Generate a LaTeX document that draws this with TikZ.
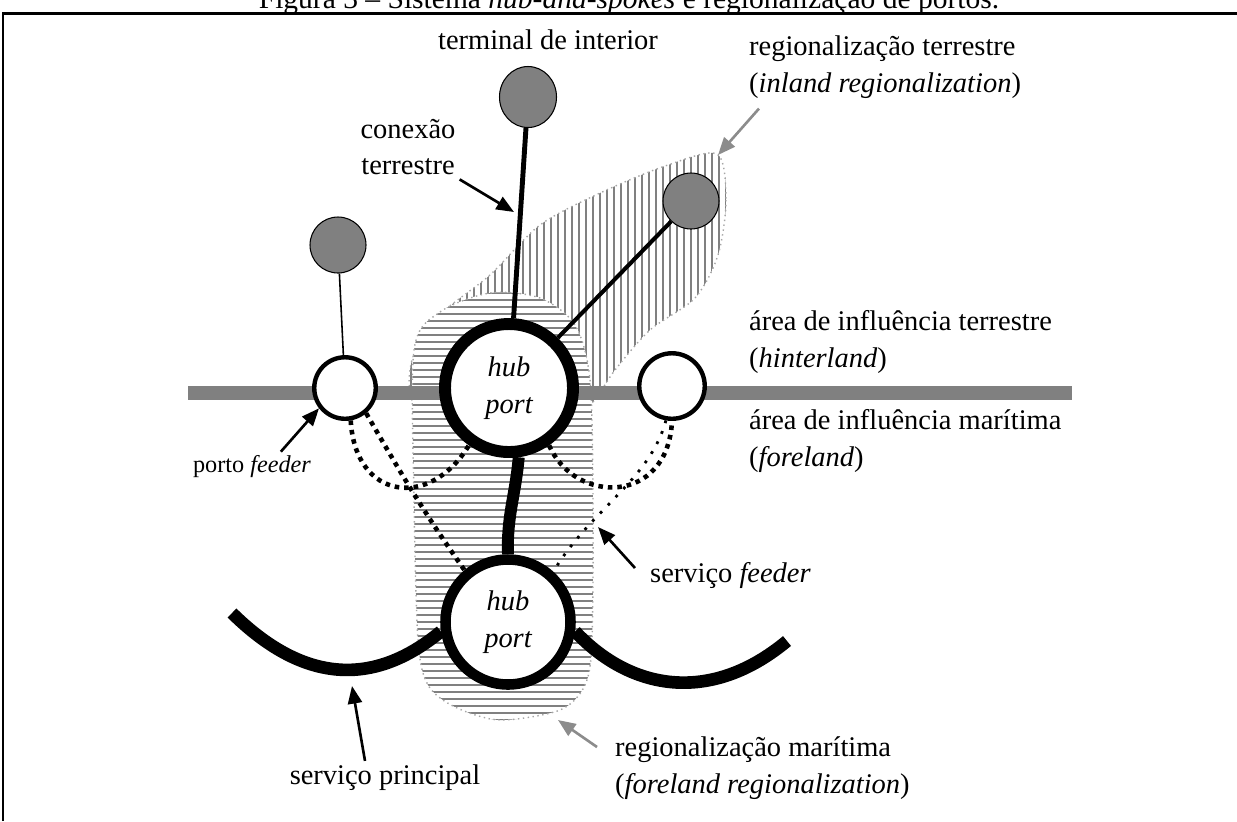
\documentclass[tikz,border=0pt]{standalone}
\usepackage{fontspec}
\setmainfont{Liberation Serif}
\usepackage{tikz}
\usetikzlibrary{positioning, arrows.meta, shapes.geometric}

\newcommand{\inlandregion}{plot[smooth cycle] coordinates {(717,154) (726,200) (718,255) (695,298) (650,330) (615,370) (592,403) (560,425) (470,425) (415,405) (412,360) (440,315) (490,275) (540,225) (600,193) (665,166)}}
\newcommand{\maritimeregion}{plot[smooth cycle] coordinates {(414,350) (440,312) (490,293) (540,298) (575,325) (590,380) (593,500) (592,640) (585,685) (560,710) (500,720) (455,707) (428,685) (418,640) (414,500)}}

\begin{document}
\begin{tikzpicture}[x=0.1mm, y=-0.1mm,
    hub/.style={draw, circle, fill=white, inner sep=0pt, align=center, font=\fontsize{8.1}{10.5}\selectfont\itshape},
    feeder/.style={draw, circle, line width=1.25pt, fill=white, inner sep=0pt},
    terminal/.style={draw, circle, line width=0.3pt, fill=black!50, inner sep=0pt},
    label/.style={font=\fontsize{8.1}{10.5}\selectfont, inner sep=1pt},
    arr/.style={-{Triangle[length=5pt, width=4pt]}, line width=0.75pt},
    greyarr/.style={arr, color=black!45},
    hatch/.style={black!50, line width=0.55pt},
    rim/.style={black!35, line width=0.4pt, densely dotted},
    feedthick/.style={line width=1.3pt, dash pattern=on 1.3pt off 1.4pt},
    feedthin/.style={line width=0.8pt, dash pattern=on 0.8pt off 2.4pt},
    mainline/.style={line width=3.6pt},
  ]
  \useasboundingbox (0,0) rectangle (1237,821);
  \clip (0,0) rectangle (1237,821);

  % caption and frame
  \node[anchor=base, font=\fontsize{8.4}{10}\selectfont] (caption) at (629,8) {Figura 3 -- Sistema \textit{hub-and-spokes} e regionalização de portos.};
  \draw[line width=0.85pt] (3,821) -- (3,13) -- (1237,13);

  % regionalization areas
  \begin{scope}
    \clip \inlandregion;
    \fill[white] (400,150) rectangle (740,430);
    \foreach \x in {404,411,...,733}
      \draw[hatch] (\x,150) -- (\x,430);
  \end{scope}
  \draw[rim] \inlandregion;
  \begin{scope}
    \clip \maritimeregion;
    \fill[white] (400,280) rectangle (600,730);
    \foreach \y in {286,293,...,725}
      \draw[hatch] (400,\y) -- (600,\y);
  \end{scope}
  \draw[rim] \maritimeregion;

  % coast line
  \draw[black!50, line width=4pt] (188,393) -- (1072,393);

  % ports and terminals
  \node[hub, line width=3.4pt, minimum size=12.8mm] (hubA) at (509,388) {hub\\port};
  \node[hub, line width=3pt, minimum size=12.5mm] (hubB) at (508,622) {hub\\port};
  \node[feeder, minimum size=6.15mm] (feederL) at (345,388) {};
  \node[feeder, minimum size=6.55mm] (feederR) at (672,386) {};
  \node[terminal, minimum size=5.6mm] (termL) at (338,245) {};
  \node[terminal, ellipse, minimum width=5.7mm, minimum height=6.1mm] (termT) at (528,97) {};
  \node[terminal, minimum size=5.6mm] (termR) at (691,201) {};

  % land connections
  \draw[line width=0.45pt] (termL) -- (feederL);
  \draw[line width=1.4pt] (termT) -- (hubA);
  \draw[line width=1.15pt] (termR) -- (hubA);
  \draw[line width=3.4pt] (hubA.-82) to[out=-95, in=92] (hubB.90);

  % feeder services
  \draw[feedthick] (feederL.-80) .. controls (355,500) and (430,510) .. (hubA.-125);
  \draw[feedthick] (feederL.-50) to[out=-60, in=125] (hubB.130);
  \draw[feedthick] (hubA.-55) .. controls (575,505) and (668,505) .. (feederR.-90);
  \draw[feedthin] (feederR.-100) .. controls (650,480) and (590,510) .. (hubB.48);

  % main service
  \coordinate (mainL) at (232,613);
  \coordinate (mainR) at (787,641);
  \draw[mainline] (mainL) .. controls (300,680) and (370,690) .. (hubB.188);
  \draw[mainline] (hubB.-8) .. controls (630,690) and (710,705) .. (mainR);

  % labels
  \node[label] (lblTerminal) at (548,40) {terminal de interior};
  \node[label, align=center] (lblConexao) at (408,147) {conexão\\terrestre};
  \node[label, align=left, anchor=west] (lblInland) at (745,67) {regionalização terrestre\\(\textit{inland regionalization})};
  \node[label, align=left, anchor=west] (lblHinter) at (745,342) {área de influência terrestre\\(\textit{hinterland})};
  \node[label, align=left, anchor=west] (lblForeland) at (745,441) {área de influência marítima\\(\textit{foreland})};
  \node[label, font=\fontsize{6.9}{8}\selectfont] (lblPorto) at (252,467) {porto \textit{feeder}};
  \node[label, anchor=west] (lblServFeeder) at (646,575) {serviço \textit{feeder}};
  \node[label] (lblServPrinc) at (385,778) {serviço principal};
  \node[label, align=left, anchor=west] (lblMaritima) at (611,768) {regionalização marítima\\(\textit{foreland regionalization})};

  % pointers
  \coordinate (conTip) at (514,212);
  \coordinate (inTip) at (718,155);
  \coordinate (sfTip) at (598,527);
  \coordinate (spTip) at (352,686);
  \coordinate (marTip) at (558,720);
  \draw[arr] (lblConexao.south east) -- (conTip);
  \draw[arr] (lblPorto.28) -- (feederL.218);
  \draw[arr] ([shift={(-11,-7)}]lblServFeeder.west) -- (sfTip);
  \draw[arr] ([shift={(-20,0)}]lblServPrinc.north) -- (spTip);
  \draw[greyarr] ([shift={(14,6)}]lblInland.south west) -- (inTip);
  \draw[greyarr] ([shift={(-14,-21)}]lblMaritima.west) -- (marTip);
\end{tikzpicture}
\end{document}
